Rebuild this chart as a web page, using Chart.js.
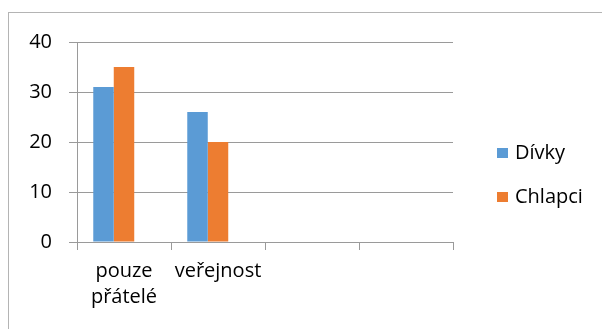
<!DOCTYPE html>
<html>
<head>
<meta charset="utf-8">
<script src="https://cdn.jsdelivr.net/npm/chart.js@4.4.1/dist/chart.umd.min.js"></script>
<style>
  body { margin: 0; background: #fff; }
  #wrap { width: 602px; height: 329px; }
</style>
</head>
<body>
<div id="wrap"><canvas id="myChart" width="602" height="329"></canvas></div>
<script>
// categories (last two are empty slots on the axis)
const categories = [['pouze', 'přátelé'], 'veřejnost', '', ''];
const divky = [31, 26];
const chlapci = [35, 20];
const treti = []; // empty third series, keeps the bar slots
const yTicks = [0, 10, 20, 30, 40];

const gridColor = '#9a9a9a';
const fontFamily = "'Open Sans', sans-serif";

// outer frame around the whole chart
const framePlugin = {
  id: 'frame',
  beforeDraw: function(chart) {
    const ctx = chart.ctx;
    ctx.save();
    ctx.strokeStyle = '#b4b4b4';
    ctx.lineWidth = 1;
    ctx.strokeRect(8.5, 12.5, 640, 360);
    ctx.restore();
  }
};

// legend on the right, square markers
const legendPlugin = {
  id: 'sideLegend',
  afterDraw: function(chart) {
    const ctx = chart.ctx;
    ctx.save();
    ctx.font = '20px ' + fontFamily;
    ctx.textBaseline = 'middle';
    let row = 0;
    chart.data.datasets.forEach(function(ds) {
      if (!ds.label) return;
      const y = 153 + row * 44;
      ctx.fillStyle = ds.backgroundColor;
      ctx.fillRect(497, y - 5, 11, 10);
      ctx.fillStyle = '#000';
      ctx.fillText(ds.label, 515, y);
      row++;
    });
    ctx.restore();
  }
};

const ctx = document.getElementById('myChart').getContext('2d');
const myChart = new Chart(ctx, {
  type: 'bar',
  data: {
    labels: categories,
    datasets: [
      { label: 'Dívky', data: divky, backgroundColor: '#5b9bd5' },
      { label: 'Chlapci', data: chlapci, backgroundColor: '#ed7d31' },
      { label: '', data: treti, backgroundColor: '#a5a5a5' }
    ]
  },
  options: {
    responsive: false,
    animation: false,
    devicePixelRatio: 1,
    categoryPercentage: 0.654,
    barPercentage: 1.0,
    layout: { padding: { left: 0, top: 42, right: 149, bottom: 0 } },
    plugins: {
      legend: { display: false },
      tooltip: { enabled: false }
    },
    scales: {
      x: {
        grid: {
          offset: true,
          drawOnChartArea: false,
          drawTicks: true,
          tickLength: 8,
          color: gridColor
        },
        border: { display: false },
        ticks: {
          color: '#000',
          padding: 8,
          autoSkip: false,
          maxRotation: 0,
          font: { family: fontFamily, size: 20, lineHeight: 1.3 }
        },
        afterFit: function(scale) { scale.height = 87; }
      },
      y: {
        min: 0,
        max: 40,
        afterBuildTicks: function(scale) {
          scale.ticks = yTicks.map(function(v) { return { value: v }; });
        },
        grid: {
          color: gridColor,
          tickLength: 8,
          drawTicks: true
        },
        border: { display: true, color: gridColor },
        ticks: {
          color: '#000',
          padding: 17,
          font: { family: fontFamily, size: 20 }
        },
        afterFit: function(scale) { scale.width = 77; }
      }
    }
  },
  plugins: [framePlugin, legendPlugin]
});
</script>
</body>
</html>
